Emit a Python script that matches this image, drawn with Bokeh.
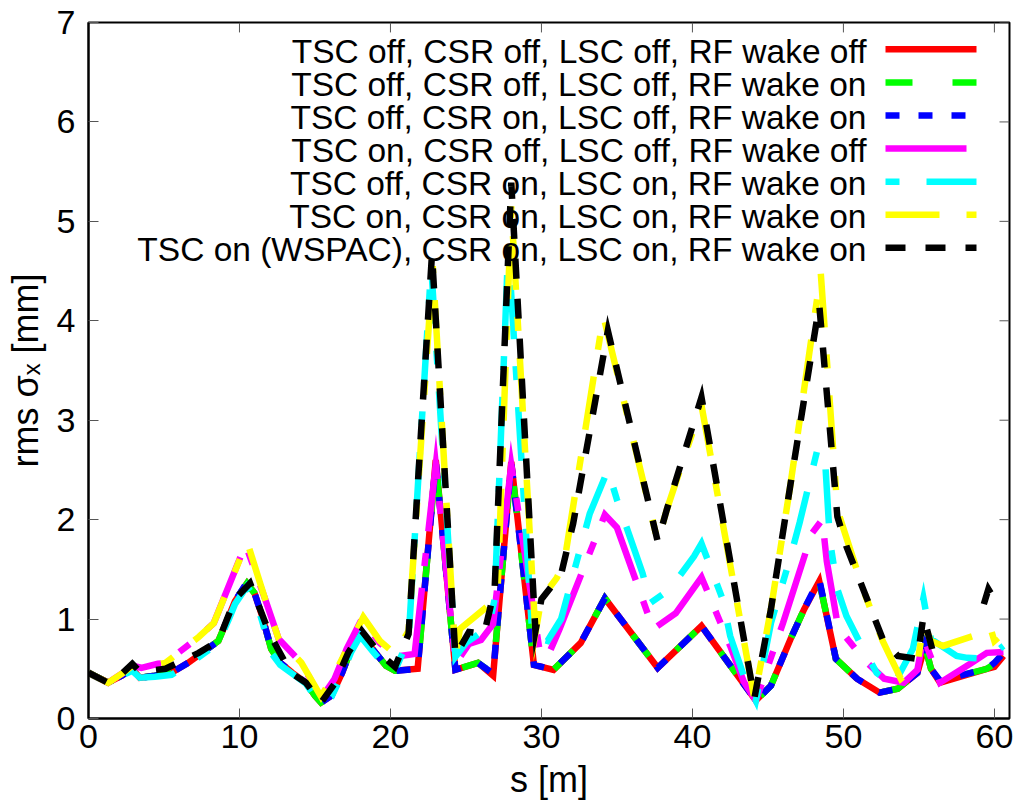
from bokeh.plotting import figure
from bokeh.models import FixedTicker, Label, Range1d
from bokeh.embed import file_html
from bokeh.resources import INLINE

nan = float("nan")

# ---------------- data ----------------
x_ticks = [0, 10, 20, 30, 40, 50, 60]
y_ticks = [0, 1, 2, 3, 4, 5, 6, 7]

labels = [
    "TSC off, CSR off, LSC off, RF wake off",
    "TSC off, CSR off, LSC off, RF wake on",
    "TSC off, CSR on, LSC off, RF wake on",
    "TSC on, CSR off, LSC off, RF wake off",
    "TSC off, CSR on, LSC on, RF wake on",
    "TSC on, CSR on, LSC on, RF wake on",
    "TSC on (WSPAC), CSR on, LSC on, RF wake on",
]

s_red = [0, 1.3, 2.2, 2.9, 3.4, 4.4, 5.5, 6.6, 7.7, 8.6, 9.3, 9.7, 10.5, 11.0, 11.5, 12.1, 12.7, 13.5, 14.4,
         15.0, 15.4, 16.1, 16.8, 17.4, 18.0, 18.8, 19.7, 20.3, 21.8, 23.0, 24.3, 25.8, 26.8, 28.0, 29.5, 30.8,
         32.6, 34.2, 37.7, 40.6, 44.2, 45.2, 46.5, 47.4, 48.4, 49.5, 50.9, 52.4, 53.6, 54.9, 55.4, 55.8, 56.4,
         59.5, 60.0, 60.6]
sig_red = [0.46, 0.36, 0.43, 0.50, 0.41, 0.43, 0.46, 0.56, 0.68, 0.78, 1.03, 1.18, 1.36, 1.26, 1.03, 0.70, 0.56,
           0.46, 0.36, 0.23, 0.16, 0.23, 0.46, 0.70, 0.85, 0.70, 0.53, 0.48, 0.50, 2.60, 0.49, 0.56, 0.43, 2.58,
           0.54, 0.49, 0.76, 1.21, 0.51, 0.93, 0.18, 0.33, 0.80, 1.10, 1.38, 0.60, 0.40, 0.26, 0.30, 0.46, 0.73,
           0.50, 0.36, 0.50, 0.52, 0.63]

s_green = s_red
sig_green = [0.46, 0.36, 0.43, 0.50, 0.41, 0.43, 0.46, 0.56, 0.68, 0.78, 1.03, 1.18, 1.36, 1.26, 1.03, 0.70, 0.56,
             0.46, 0.36, 0.23, 0.16, 0.23, 0.46, 0.70, 0.85, 0.70, 0.53, 0.48, 0.50, 2.58, 0.49, 0.56, 0.45, 2.56,
             0.54, 0.49, 0.76, 1.21, 0.51, 0.93, 0.18, 0.33, 0.80, 1.10, 1.38, 0.60, 0.40, 0.26, 0.30, 0.46, 0.73,
             0.50, 0.38, 0.50, 0.55, 0.62]

s_blue = s_red
sig_blue = [0.46, 0.36, 0.43, 0.50, 0.41, 0.43, 0.46, 0.56, 0.68, 0.78, 1.03, 1.18, 1.37, 1.26, 1.03, 0.70, 0.56,
            0.46, 0.36, 0.23, 0.16, 0.23, 0.46, 0.70, 0.85, 0.70, 0.53, 0.48, 0.50, 2.58, 0.49, 0.56, 0.45, 2.57,
            0.54, 0.49, 0.76, 1.21, 0.51, 0.93, 0.18, 0.33, 0.80, 1.10, 1.40, 0.60, 0.40, 0.26, 0.30, 0.46, 0.73,
            0.50, 0.38, 0.50, 0.56, 0.66]

s_mag = [0, 1.3, 2.2, 2.9, 3.5, 4.6, 5.1, 7.3, 8.3, 10.4, 11.7, 12.6, 14.1, 15.4, 16.3, 17.1, 18.1, 19.3, 20.3,
         21.6, 23.0, 24.3, 25.2, 26.0, 26.8, 28.0, 29.9, 30.4, 31.2, 34.2, 35.0, 37.4, 38.9, 40.6, 42.5, 43.4,
         44.2, 46.0, 47.9, 48.6, 48.9, 49.6, 50.1, 51.5, 52.7, 54.0, 54.9, 55.3, 56.0, 56.4, 58.4, 59.5, 60.6]
sig_mag = [0.46, 0.36, 0.45, 0.53, 0.51, 0.55, 0.56, 0.82, 0.96, 1.75, 1.2, 0.80, 0.56, 0.20, 0.40, 0.70, 1.0,
           0.76, 0.62, 0.65, 2.55, 0.55, 0.75, 0.79, 0.95, 2.55, 0.66, 0.62, 0.90, 2.05, 1.92, 0.90, 1.06, 1.42,
           0.73, 0.37, 0.18, 0.96, 1.86, 2.0, 1.58, 0.96, 0.83, 0.57, 0.40, 0.36, 0.49, 0.82, 0.53, 0.36, 0.55,
           0.66, 0.67]

s_cyan = [0, 1.3, 2.2, 2.9, 3.4, 4.4, 5.5, 6.6, 7.7, 8.6, 9.3, 9.7, 10.5, 11.0, 11.5, 12.1, 12.7, 13.5, 14.4,
          15.0, 15.4, 16.1, 16.8, 17.4, 18.0, 18.8, 19.7, 20.3, 21.2, 22.7, 24.3, 25.0, 26.5, 26.9, 27.8, 29.4,
          29.9, 30.4, 31.3, 33.2, 34.4, 35.0, 36.7, 37.2, 38.5, 40.1, 40.6, 42.0, 42.5, 43.4, 44.2, 45.2, 46.5,
          47.1, 48.3, 48.8, 49.1, 49.6, 50.2, 51.1, 52.2, 53.3, 54.6, 55.3, 55.8, 57.5, 58.2, 59.5, 60.6]
sig_cyan = [0.46, 0.36, 0.43, 0.48, 0.41, 0.42, 0.44, 0.54, 0.66, 0.76, 1.0, 1.15, 1.33, 1.22, 0.98, 0.66, 0.54,
            0.45, 0.35, 0.22, 0.16, 0.22, 0.44, 0.67, 0.83, 0.68, 0.52, 0.48, 0.80, 4.55, 0.62, 0.76, 0.92, 1.2,
            4.75, 0.82, 0.80, 0.78, 1.0, 2.06, 2.5, 2.2, 1.46, 1.16, 1.30, 1.63, 1.76, 1.2, 0.83, 0.43, 0.18,
            0.96, 1.63, 1.97, 2.72, 2.56, 1.8, 1.3, 1.03, 0.76, 0.46, 0.33, 0.70, 1.21, 0.8, 0.63, 0.61, 0.60,
            0.73]

s_yellow = [0, 1.3, 2.2, 2.9, 3.5, 5.1, 7.3, 8.3, 10.5, 11.7, 12.6, 14.1, 15.4, 16.3, 17.2, 18.2, 19.3, 20.3,
            21.2, 22.8, 24.3, 24.6, 26.6, 27.1, 28.0, 29.6, 30.0, 31.0, 31.5, 34.1, 37.7, 38.3, 40.6, 44.1, 45.2,
            46.5, 48.5, 49.6, 51.3, 52.6, 53.8, 54.9, 55.3, 55.8, 56.6, 58.6, 59.7, 60.0, 60.6]
sig_yellow = [0.46, 0.36, 0.45, 0.53, 0.51, 0.56, 0.82, 0.96, 1.78, 1.2, 0.80, 0.56, 0.22, 0.45, 0.72, 1.02,
              0.78, 0.65, 0.88, 4.55, 0.62, 0.90, 1.15, 1.3, 5.15, 0.86, 1.21, 1.41, 1.56, 4.05, 1.78, 2.1, 3.15,
              0.20, 1.1, 2.36, 4.48, 2.1, 1.3, 0.78, 0.40, 0.55, 0.95, 0.78, 0.73, 0.83, 0.93, 0.78, 0.86]

s_black = [0, 1.3, 2.2, 2.9, 3.4, 5.1, 7.3, 8.6, 9.7, 10.7, 12.0, 13.4, 14.4, 15.4, 16.3, 17.2, 18.1, 19.3, 20.3,
           21.2, 22.75, 24.3, 25.2, 26.2, 26.9, 28.0, 29.6, 30.0, 31.3, 32.1, 34.4, 37.7, 38.3, 40.6, 44.1, 45.2,
           46.5, 48.4, 49.6, 50.2, 52.6, 53.6, 54.9, 55.3, 56.0, nan, 59.3, 59.6, 60.0, 60.6]
sig_black = [0.46, 0.36, 0.45, 0.55, 0.47, 0.50, 0.66, 0.78, 1.2, 1.36, 0.85, 0.46, 0.36, 0.16, 0.35, 0.66, 0.88,
             0.65, 0.52, 0.85, 4.67, 0.63, 0.87, 0.85, 1.3, 5.39, 0.88, 1.2, 1.45, 1.96, 3.9, 1.78, 2.1, 3.23,
             0.20, 1.1, 2.36, 4.16, 2.03, 1.73, 0.80, 0.63, 0.60, 1.03, 0.63, nan, 1.15, 1.3, 1.2, 1.26]

# ---------------- styles ----------------
FONT = "Liberation Sans"
FS = "34px"
KEY_FS = "33.5px"
LAB_FS = "36px"
LW = 6.5
series = [
    (s_red, sig_red, "#ff0000", "solid", 0),
    (s_green, sig_green, "#00ff00", "27 40", 0),
    (s_blue, sig_blue, "#0000ff", "14 19", 0),
    (s_mag, sig_mag, "#ff00ff", "81 22 13 22", 0),
    (s_cyan, sig_cyan, "#00ffff", "54 27 14 27", 81),
    (s_yellow, sig_yellow, "#ffff00", "54 27 14 27", 0),
    (s_black, sig_black, "#000000", "20 20", 0),
]

W, H = 1022, 802
L, R, T, B = 88, 13, 22, 79
X0, X1, Y0, Y1 = 0, 61, 0, 7
fw = W - L - R
fh = H - T - B


def px_x(px):
    return X0 + (px - L) / fw * (X1 - X0)


def px_y(py):
    return Y1 - (py - T) / fh * (Y1 - Y0)


p = figure(width=W, height=H, output_backend="svg", toolbar_location=None,
           x_range=Range1d(X0, X1), y_range=Range1d(Y0, Y1),
           min_border_left=L, min_border_right=R, min_border_top=T, min_border_bottom=B,
           x_axis_label="s [m]", y_axis_label="rms σₓ [mm]")
p.grid.visible = False
p.outline_line_color = "black"
p.outline_line_width = 2
p.background_fill_color = "white"
p.border_fill_color = "white"

p.xaxis.ticker = FixedTicker(ticks=x_ticks)
p.yaxis.ticker = FixedTicker(ticks=y_ticks)
for ax in p.xaxis + p.yaxis:
    ax.major_label_text_font = FONT
    ax.major_label_text_font_size = FS
    ax.major_label_text_color = "black"
    ax.axis_label_text_font = FONT
    ax.axis_label_text_font_size = LAB_FS
    ax.axis_label_text_font_style = "normal"
    ax.axis_label_text_color = "black"
    ax.major_tick_in = 10
    ax.major_tick_out = 0
    ax.major_tick_line_color = "#555555"
    ax.major_tick_line_width = 1
    ax.minor_tick_line_color = None
    ax.axis_line_color = "black"
    ax.axis_line_width = 2
p.yaxis.major_label_standoff = 13
p.yaxis.axis_label_standoff = 8
p.xaxis.major_label_standoff = 6
p.xaxis.axis_label_standoff = 8

# mirrored ticks on top and right (gnuplot "mirror")
TICK = 10
dx_t = TICK / fw * (X1 - X0)
dy_t = TICK / fh * (Y1 - Y0)
p.segment(x0=x_ticks, y0=[Y1] * len(x_ticks), x1=x_ticks, y1=[Y1 - dy_t] * len(x_ticks),
          line_color="#555555", line_width=1)
p.segment(x0=[X1] * len(y_ticks), y0=y_ticks, x1=[X1 - dx_t] * len(y_ticks), y1=y_ticks,
          line_color="#555555", line_width=1)

for s, y, c, dash, off in series:
    p.line(s, y, line_color=c, line_width=LW, line_dash=dash, line_dash_offset=off,
           line_join="miter", line_cap="butt")

# ---------------- key (gnuplot style: text left, sample right) ----------------
KEY_TEXT_RIGHT = 866
KEY_LINE_X0, KEY_LINE_X1 = 885, 976
KEY_ROW0, KEY_DY = 49, 33.33
for i, (lab, (s, y, c, dash, off)) in enumerate(zip(labels, series)):
    row = KEY_ROW0 + i * KEY_DY
    yy = px_y(row)
    p.line([px_x(KEY_LINE_X0), px_x(KEY_LINE_X1)], [yy, yy], line_color=c, line_width=LW,
           line_dash=dash, line_dash_offset=off, line_cap="butt")
    p.add_layout(Label(x=px_x(KEY_TEXT_RIGHT), y=px_y(row + 2), text=lab, text_align="right",
                       text_baseline="middle", text_font=FONT, text_font_size=KEY_FS, text_color="black"))

open("out.html", "w").write(file_html(p, INLINE))
